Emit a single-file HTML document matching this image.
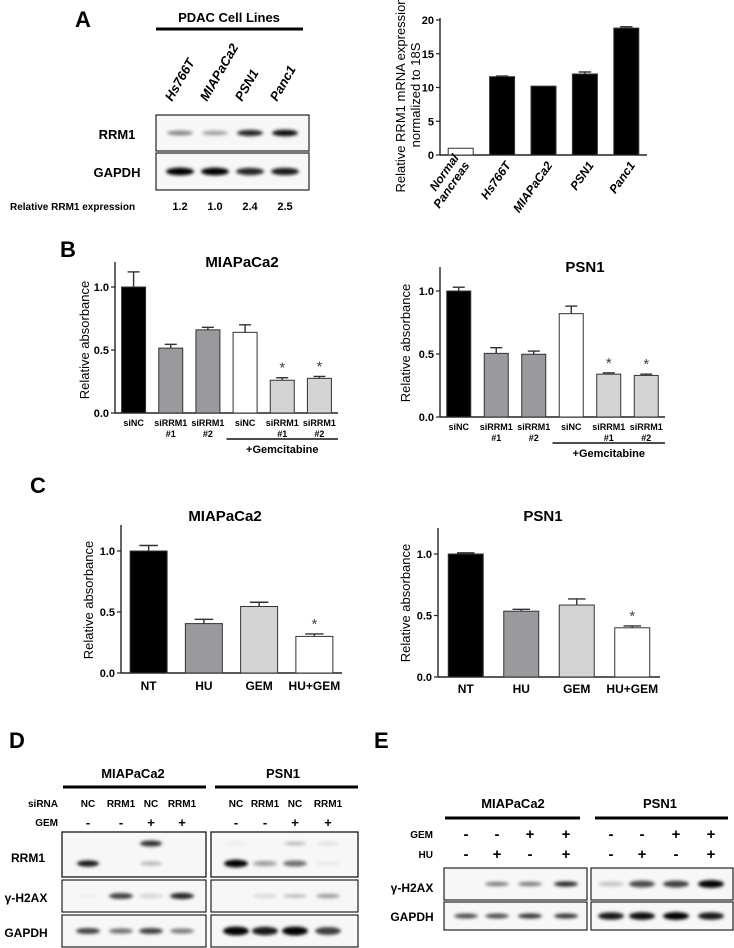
<!DOCTYPE html>
<html><head><meta charset="utf-8"><style>
html,body{margin:0;padding:0;background:#fff}
svg{display:block;font-family:"Liberation Sans",sans-serif}
.b{font-weight:bold}
</style></head><body>
<svg id="fig" width="734" height="948" viewBox="0 0 734 948" xmlns="http://www.w3.org/2000/svg">
<defs><filter id="blur" x="-50%" y="-200%" width="200%" height="500%"><feGaussianBlur stdDeviation="1.6"/></filter></defs>
<!-- Panel labels -->
<text x="75" y="27" font-size="22" class="b">A</text>
<text x="62" y="327" font-size="22" class="b" transform="translate(-2,-70)">B</text>
<text x="30" y="493" font-size="22" class="b">C</text>
<text x="9" y="748" font-size="22" class="b">D</text>
<text x="374" y="748" font-size="22" class="b">E</text>
<g id="root"></g>
</svg>
<script>
// ---------- DATA ----------
// Panel A bar chart
const aCats = ["Normal\nPancreas","Hs766T","MIAPaCa2","PSN1","Panc1"];
const aVals = [1.0, 11.6, 10.2, 12.0, 18.8];
const aErrs = [0, 0.1, 0, 0.3, 0.2];
const aTicks = [0, 5, 10, 15, 20];
// Panel A blot
const aLanes = ["Hs766T","MIAPaCa2","PSN1","Panc1"];
const aRrm1 = [0.45, 0.35, 0.85, 0.95];
const aRelExpr = ["1.2","1.0","2.4","2.5"];
// Panel B
const bCats = ["siNC","siRRM1\n#1","siRRM1\n#2","siNC","siRRM1\n#1","siRRM1\n#2"];
const bMiaVals = [1.0, 0.515, 0.66, 0.64, 0.26, 0.275];
const bMiaErrs = [0.12, 0.03, 0.02, 0.06, 0.02, 0.015];
const bPsnVals = [1.0, 0.505, 0.498, 0.82, 0.34, 0.33];
const bPsnErrs = [0.03, 0.045, 0.025, 0.06, 0.01, 0.01];
const bStars = [false, false, false, false, true, true];
// Panel C
const cCats = ["NT","HU","GEM","HU+GEM"];
const cMiaVals = [1.0, 0.405, 0.545, 0.30];
const cMiaErrs = [0.045, 0.035, 0.035, 0.02];
const cPsnVals = [1.0, 0.535, 0.585, 0.40];
const cPsnErrs = [0.01, 0.015, 0.05, 0.015];
const cStars = [false, false, false, true];
const absTicks = ["0.0","0.5","1.0"];
// Panel D blots (band intensities)
const dSirna = ["NC","RRM1","NC","RRM1"];
const dGem = ["-","-","+","+"];
const dMiaRrm1 = [0.9, 0, 0.25, 0];
const dMiaRrm1Upper = [0, 0, 0.8, 0];
const dMiaH2ax = [0.03, 0.75, 0.15, 0.85];
const dMiaGapdh = [0.75, 0.55, 0.75, 0.5];
const dPsnRrm1 = [1.0, 0.35, 0.55, 0.05];
const dPsnRrm1Upper = [0.05, 0, 0.25, 0.1];
const dPsnH2ax = [0, 0.15, 0.25, 0.4];
const dPsnGapdh = [1.0, 0.9, 1.0, 0.75];
// Panel E blots
const eGem = ["-","-","+","+"];
const eHu = ["-","+","-","+"];
const eMiaH2ax = [0, 0.5, 0.5, 0.85];
const eMiaGapdh = [0.7, 0.7, 0.8, 0.8];
const ePsnH2ax = [0.2, 0.7, 0.75, 1.0];
const ePsnGapdh = [0.9, 0.95, 1.0, 0.9];

// ---------- HELPERS ----------
const NS = "http://www.w3.org/2000/svg";
const root = document.getElementById("root");
function mk(tag, attrs, parent) {
  const e = document.createElementNS(NS, tag);
  for (const k in attrs) e.setAttribute(k, attrs[k]);
  (parent || root).appendChild(e);
  return e;
}
function txt(x, y, s, size, opts, parent) {
  const t = mk("text", Object.assign({x: x, y: y, "font-size": size, "font-weight": "bold", "text-anchor": "middle"}, opts || {}), parent);
  t.textContent = s;
  return t;
}

// ---------- BAR CHART ----------
function barChart(cfg) {
  const g = mk("g", {});
  
  
  const y = v => cfg.y0 - (v - 0) / cfg.vmax * (cfg.y0 - cfg.yTop);
  const n = cfg.vals.length;
  const step = (cfg.x1 - cfg.x0 - cfg.pad) / n;
  const xc = i => cfg.x0 + cfg.pad / 2 + step * (i + 0.5);
  // axes
  const ya = mk("line", {x1: cfg.x0, y1: cfg.axisTop, x2: cfg.x0, y2: cfg.y0, stroke: "#222", "stroke-width": 1.4}, g);
  
  
  const xa = mk("line", {x1: cfg.x0, y1: cfg.y0, x2: cfg.x1, y2: cfg.y0, stroke: "#222", "stroke-width": 1.6}, g);
  
  
  cfg.ticks.forEach(tv => {
    const v = parseFloat(tv);
    mk("line", {x1: cfg.x0 - 4, y1: y(v), x2: cfg.x0, y2: y(v), stroke: "#222", "stroke-width": 1.2}, g);
    const t = txt(cfg.x0 - 6, y(v) + 4, tv, 11, {"text-anchor": "end"}, g);
    
    
  });
  cfg.vals.forEach((v, i) => {
    const cx = xc(i), w = cfg.bw;
    const r = mk("rect", {x: cx - w / 2, y: y(v), width: w, height: cfg.y0 - y(v), fill: cfg.colors[i], stroke: "#333", "stroke-width": 1}, g);
    
    
    const e = cfg.errs[i];
    if (e > 0) {
      mk("line", {x1: cx, y1: y(v), x2: cx, y2: y(v + e), stroke: "#333", "stroke-width": 1.4}, g);
      mk("line", {x1: cx - w * 0.25, y1: y(v + e), x2: cx + w * 0.25, y2: y(v + e), stroke: "#333", "stroke-width": 1.4}, g);
    }
    if (cfg.stars && cfg.stars[i]) {
      const s = txt(cx, y(v + e) - 5, "*", 15, {"font-weight": "normal", fill: "#444"}, g);
      
      
    }
    if (cfg.cats) {
      const parts = cfg.cats[i].split("\n");
      if (cfg.rot) {
        const tg = mk("g", {transform: "translate(" + (cx + 6) + "," + (cfg.y0 + 8) + ") rotate(-55)"}, g);
        parts.forEach((p, j) => {
          const t = txt(0, (j - parts.length + 1) * 13 + 4, p, 12, {"text-anchor": "end", "font-style": "italic"}, tg);
          
          
        });
      } else {
        parts.forEach((p, j) => {
          const t = txt(cx, cfg.y0 + cfg.labOff + j * 11, p, cfg.labSize, {}, g);
          
          
        });
      }
    }
  });
  if (cfg.title) {
    const t = txt(cfg.titleX, cfg.titleY, cfg.title, 15, {}, g);
    
    
  }
  cfg.ylab.forEach((l, j) => {
    const t = txt(0, 0, l, 13, {transform: "translate(" + (cfg.ylabX + j * 15) + "," + cfg.ylabY + ") rotate(-90)", "font-weight": "normal"}, g);
    
    
  });
  if (cfg.gem) {
    const gi = cfg.gem;
    const xa0 = xc(gi) - step / 2, xa1 = cfg.x1;
    mk("line", {x1: xa0, y1: cfg.y0 + 26, x2: xa1, y2: cfg.y0 + 26, stroke: "#111", "stroke-width": 1.4}, g);
    const t = txt((xa0 + xa1) / 2, cfg.y0 + 40, "+Gemcitabine", 11, {}, g);
    
    
  }
}

// A bar chart
barChart({name: "rrm1-mrna-chart", vals: aVals, errs: aErrs, cats: aCats, rot: true, ticks: aTicks.map(String),
  x0: 440, x1: 647, pad: 0, bw: 25, y0: 155, yTop: 20, vmax: 20, axisTop: 18,
  colors: ["#fff", "#000", "#000", "#000", "#000"],
  ylab: ["Relative RRM1 mRNA expression", "normalized to 18S"], ylabX: 405, ylabY: 95});

const bColors = ["#000", "#9a9a9e", "#9a9a9e", "#fff", "#d4d4d4", "#d4d4d4"];
barChart({name: "b-miapaca2-chart", vals: bMiaVals, errs: bMiaErrs, cats: bCats, stars: bStars, ticks: absTicks,
  x0: 115, x1: 338, pad: 0, bw: 24, y0: 413, yTop: 287, vmax: 1.0, axisTop: 262, labOff: 13, labSize: 9,
  colors: bColors, title: "MIAPaCa2", titleX: 242, titleY: 267, ylab: ["Relative absorbance"], ylabX: 89, ylabY: 340, gem: 3});
barChart({name: "b-psn1-chart", vals: bPsnVals, errs: bPsnErrs, cats: bCats, stars: bStars, ticks: absTicks,
  x0: 440, x1: 665, pad: 0, bw: 24, y0: 417, yTop: 291, vmax: 1.0, axisTop: 267, labOff: 13, labSize: 9,
  colors: bColors, title: "PSN1", titleX: 585, titleY: 272, ylab: ["Relative absorbance"], ylabX: 410, ylabY: 343, gem: 3});

const cColors = ["#000", "#9a9a9e", "#d4d4d4", "#fff"];
barChart({name: "c-miapaca2-chart", vals: cMiaVals, errs: cMiaErrs, cats: cCats, stars: cStars, ticks: absTicks,
  x0: 121, x1: 342, pad: 0, bw: 37, y0: 673, yTop: 551, vmax: 1.0, axisTop: 525, labOff: 17, labSize: 12,
  colors: cColors, title: "MIAPaCa2", titleX: 225, titleY: 521, ylab: ["Relative absorbance"], ylabX: 93, ylabY: 600});
barChart({name: "c-psn1-chart", vals: cPsnVals, errs: cPsnErrs, cats: cCats, stars: cStars, ticks: absTicks,
  x0: 438, x1: 660, pad: 0, bw: 35, y0: 677, yTop: 554, vmax: 1.0, axisTop: 528, labOff: 16, labSize: 12,
  colors: cColors, title: "PSN1", titleX: 543, titleY: 521, ylab: ["Relative absorbance"], ylabX: 410, ylabY: 603});

// ---------- BLOTS ----------
function blotBox(name, x, y, w, h, lanesX, intens, bandW, bandH, bandYOff) {
  const g = mk("g", {});
  
  
  mk("rect", {x: x, y: y, width: w, height: h, fill: "#f7f7f7", stroke: "#222", "stroke-width": 1.2}, g);
  intens.forEach((v, i) => {
    if (v <= 0) return;
    const b = mk("ellipse", {cx: lanesX[i], cy: y + h / 2 + (bandYOff || 0), rx: bandW / 2, ry: bandH / 2 * (0.6 + 0.5 * v), fill: "#000", "fill-opacity": Math.min(1, v), filter: "url(#blur)"}, g);
    
    
  });
  return g;
}
function label(x, y, s, size, anchor, name) {
  const t = txt(x, y, s, size, {"text-anchor": anchor || "middle"});
  
  
  return t;
}
function hline(x1, x2, y, w, name) {
  const l = mk("line", {x1: x1, y1: y, x2: x2, y2: y, stroke: "#000", "stroke-width": w});
  
  
}

// Panel A blot
const aLaneX = [180, 215, 250, 285];
label(229, 22, "PDAC Cell Lines", 13, "middle", "cell-lines-header");
hline(156, 303, 29, 3, "cell-lines-bar");
aLanes.forEach((s, i) => {
  const t = txt(0, 0, s, 13, {"text-anchor": "start", "font-style": "italic", transform: "translate(" + (aLaneX[i] - 8) + ",102) rotate(-60)"});
  
  
});
blotBox("a-rrm1-blot", 156, 115, 153, 36, aLaneX, aRrm1, 26, 6);
blotBox("a-gapdh-blot", 156, 153, 153, 37, aLaneX, [1, 1, 0.85, 0.9], 28, 7);
label(117, 139, "RRM1", 13, "middle", "rrm1-row-label");
label(117, 177, "GAPDH", 13, "middle", "gapdh-row-label");
label(10, 210, "Relative RRM1 expression", 10, "start", "relative-expression-label");
aRelExpr.forEach((s, i) => label(aLaneX[i], 210, s, 11, "middle", "relative-expression-value"));

// Panel D
const dMiaX = [88, 121, 151, 182], dPsnX = [236, 265, 295, 328];
label(133, 778, "MIAPaCa2", 13, "middle", "d-miapaca2-header");
label(283, 778, "PSN1", 13, "middle", "d-psn1-header");
hline(63, 206, 787, 3, "d-miapaca2-bar");
hline(215, 358, 787, 3, "d-psn1-bar");
label(58, 807, "siRNA", 10, "end", "sirna-row-label");
label(58, 826, "GEM", 10, "end", "d-gem-row-label");
dSirna.forEach((s, i) => { label(dMiaX[i], 807, s, 10, "middle", "sirna-value"); label(dPsnX[i], 807, s, 10, "middle", "sirna-value"); });
dGem.forEach((s, i) => { label(dMiaX[i], 827, s, 13, "middle", "gem-value"); label(dPsnX[i], 827, s, 13, "middle", "gem-value"); });
blotBox("d-mia-rrm1-blot", 62, 832, 144, 45, dMiaX, dMiaRrm1, 22, 6, 9);
blotBox("d-mia-rrm1-upper", 62, 832, 144, 45, dMiaX, dMiaRrm1Upper, 22, 6, -11).querySelector("rect").setAttribute("fill", "none");
blotBox("d-psn1-rrm1-blot", 211, 832, 147, 45, dPsnX, dPsnRrm1, 24, 7, 9);
blotBox("d-psn1-rrm1-upper", 211, 832, 147, 45, dPsnX, dPsnRrm1Upper, 22, 5, -11).querySelector("rect").setAttribute("fill", "none");
blotBox("d-mia-h2ax-blot", 62, 880, 144, 32, dMiaX, dMiaH2ax, 24, 6);
blotBox("d-psn1-h2ax-blot", 211, 880, 147, 32, dPsnX, dPsnH2ax, 24, 5);
blotBox("d-mia-gapdh-blot", 62, 915, 144, 32, dMiaX, dMiaGapdh, 24, 6);
blotBox("d-psn1-gapdh-blot", 211, 915, 147, 32, dPsnX, dPsnGapdh, 26, 8);
label(28, 862, "RRM1", 12, "middle", "d-rrm1-row-label");
label(26, 902, "γ-H2AX", 12, "middle", "d-h2ax-row-label");
label(26, 937, "GAPDH", 12, "middle", "d-gapdh-row-label");

// Panel E
const eMiaX = [466, 497, 530, 566], ePsnX = [611, 642, 676, 711];
label(513, 808, "MIAPaCa2", 13, "middle", "e-miapaca2-header");
label(660, 808, "PSN1", 13, "middle", "e-psn1-header");
hline(445, 580, 818, 3, "e-miapaca2-bar");
hline(595, 728, 818, 3, "e-psn1-bar");
label(433, 838, "GEM", 10, "end", "e-gem-row-label");
label(433, 858, "HU", 10, "end", "e-hu-row-label");
eGem.forEach((s, i) => { label(eMiaX[i], 839, s, 15, "middle", "gem-value"); label(ePsnX[i], 839, s, 15, "middle", "gem-value"); });
eHu.forEach((s, i) => { label(eMiaX[i], 859, s, 15, "middle", "hu-value"); label(ePsnX[i], 859, s, 15, "middle", "hu-value"); });
blotBox("e-mia-h2ax-blot", 444, 868, 143, 32, eMiaX, eMiaH2ax, 24, 5);
blotBox("e-psn1-h2ax-blot", 591, 868, 142, 32, ePsnX, ePsnH2ax, 26, 7);
blotBox("e-mia-gapdh-blot", 444, 902, 143, 28, eMiaX, eMiaGapdh, 24, 5);
blotBox("e-psn1-gapdh-blot", 591, 902, 142, 28, ePsnX, ePsnGapdh, 26, 7);
label(412, 892, "γ-H2AX", 12, "middle", "e-h2ax-row-label");
label(412, 921, "GAPDH", 12, "middle", "e-gapdh-row-label");
</script>
</body></html>
